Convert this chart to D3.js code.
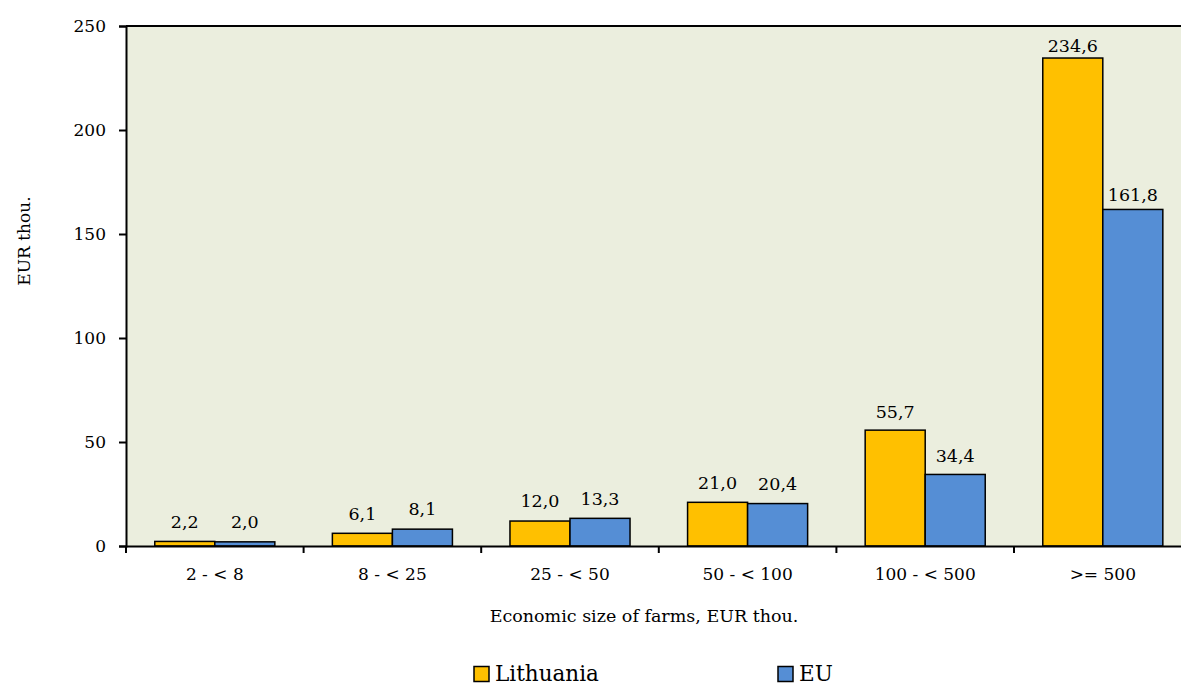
<!DOCTYPE html>
<html>
<head>
<meta charset="utf-8">
<script src="https://cdn.jsdelivr.net/npm/d3@7"></script>
<style>
  html, body { margin: 0; padding: 0; background: #ffffff; }
  svg { display: block; font-family: "DejaVu Serif", serif; }
</style>
</head>
<body>
<svg id="chart" width="1181" height="686"></svg>
<script>
// Farm size classes and average values (EUR thou.)
const categories = ["2 - < 8", "8 - < 25", "25 - < 50", "50 - < 100", "100 - < 500", ">= 500"];
const seriesNames = ["Lithuania", "EU"];
const lithuania = [2.2, 6.1, 12.0, 21.0, 55.7, 234.6];
const eu = [2.0, 8.1, 13.3, 20.4, 34.4, 161.8];
const yTicks = [0, 50, 100, 150, 200, 250];
const colors = { Lithuania: "#FFC000", EU: "#558ED5" };

const rows = categories.map((c, i) => ({ category: c, Lithuania: lithuania[i], EU: eu[i] }));

const svg = d3.select("#chart");
const plotLeft = 126, plotTop = 26, plotBottom = 546, plotRight = 1191.6;

const x = d3.scaleBand().domain(categories).range([plotLeft, plotRight]).paddingInner(0).paddingOuter(0);
const groupWidth = x.bandwidth() * 0.676;
const inner = d3.scaleBand().domain(seriesNames).range([0, groupWidth]);
const groupOffset = (x.bandwidth() - groupWidth) / 2;
const y = d3.scaleLinear().domain([0, 250]).range([plotBottom, plotTop]);

const fmt = v => d3.format(".1f")(v).replace(".", ",");
// label gap above the bar narrows slightly as bars get taller
const labelGap = v => 14 - 0.035 * v;

// Plot area
svg.append("rect")
  .attr("x", plotLeft).attr("y", plotTop)
  .attr("width", plotRight - plotLeft).attr("height", plotBottom - plotTop)
  .attr("fill", "#EBEEDE");
svg.append("line")
  .attr("x1", plotLeft).attr("x2", plotRight)
  .attr("y1", plotTop).attr("y2", plotTop)
  .attr("stroke", "#000").attr("stroke-width", 2);

// Bars
const groups = svg.append("g").selectAll("g").data(rows).join("g")
  .attr("transform", d => `translate(${x(d.category) + groupOffset},0)`);

groups.selectAll("rect")
  .data(d => seriesNames.map(k => ({ key: k, value: d[k] })))
  .join("rect")
  .attr("x", d => inner(d.key))
  .attr("y", d => y(d.value))
  .attr("width", inner.bandwidth())
  .attr("height", d => y(0) - y(d.value))
  .attr("fill", d => colors[d.key])
  .attr("stroke", "#000")
  .attr("stroke-width", 1.5);

groups.selectAll("text")
  .data(d => seriesNames.map(k => ({ key: k, value: d[k] })))
  .join("text")
  .attr("x", d => inner(d.key) + inner.bandwidth() / 2)
  .attr("y", d => y(d.value) - labelGap(d.value))
  .attr("text-anchor", "middle")
  .attr("font-size", 17.5)
  .attr("fill", "#000")
  .text(d => fmt(d.value));

// Y axis
const yAxis = svg.append("g")
  .attr("transform", `translate(${plotLeft},0)`)
  .call(d3.axisLeft(y).tickValues(yTicks).tickSize(7).tickPadding(13).tickFormat(d3.format("d")));
yAxis.select(".domain").attr("stroke", "#000").attr("stroke-width", 2);
yAxis.selectAll(".tick line").attr("stroke", "#000").attr("stroke-width", 2);
yAxis.selectAll(".tick text").attr("font-size", 17).attr("font-family", "DejaVu Serif").attr("fill", "#000");

// X axis
const xAxis = svg.append("g")
  .attr("transform", `translate(0,${plotBottom})`)
  .call(d3.axisBottom(x).tickSize(0).tickPadding(22));
xAxis.select(".domain").attr("stroke", "#000").attr("stroke-width", 2);
xAxis.selectAll(".tick text").attr("font-size", 17).attr("font-family", "DejaVu Serif").attr("fill", "#000");

// Boundary ticks between categories
const bounds = categories.map(c => x(c)).concat([plotRight]);
svg.append("g").selectAll("line").data(bounds).join("line")
  .attr("x1", d => d).attr("x2", d => d)
  .attr("y1", plotBottom).attr("y2", plotBottom + 7)
  .attr("stroke", "#000").attr("stroke-width", 2);

// Axis titles
svg.append("text")
  .attr("x", 644).attr("y", 622)
  .attr("text-anchor", "middle")
  .attr("font-size", 17.5)
  .text("Economic size of farms, EUR thou.");

svg.append("text")
  .attr("transform", "translate(30,241) rotate(-90)")
  .attr("text-anchor", "middle")
  .attr("font-size", 17)
  .text("EUR thou.");

// Legend
const legendX = [474, 778];
const legend = svg.append("g").selectAll("g").data(seriesNames).join("g")
  .attr("transform", (d, i) => `translate(${legendX[i]},674)`);
legend.append("rect")
  .attr("x", 0).attr("y", -7.5).attr("width", 15).attr("height", 15)
  .attr("fill", d => colors[d]).attr("stroke", "#000").attr("stroke-width", 1.5);
legend.append("text")
  .attr("x", 21).attr("y", 6.5)
  .attr("font-size", 21.5)
  .text(d => d);
</script>
</body>
</html>
